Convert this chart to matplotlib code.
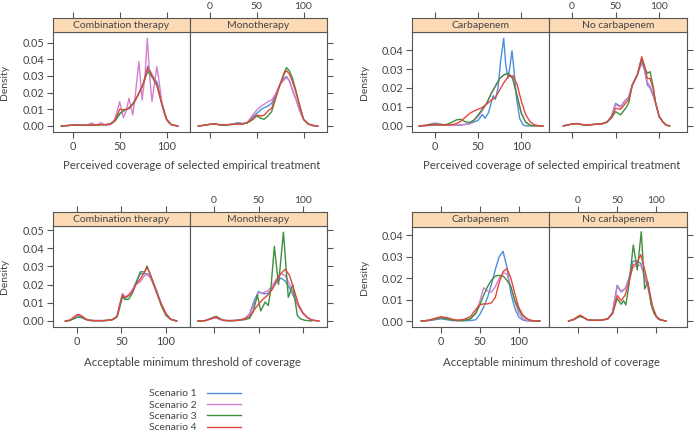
import numpy as np
import matplotlib
matplotlib.use("Agg")
import matplotlib.pyplot as plt
from matplotlib.lines import Line2D

plt.rcParams['font.family'] = ['Lato', 'DejaVu Sans']

scenarios = ["Scenario 1", "Scenario 2", "Scenario 3", "Scenario 4"]
colors = ["#4a8fd8", "#d67fd0", "#3f8f3f", "#e0483c"]

# --- Perceived coverage, Combination therapy
pc_combo_x = [-12, -5, 0, 5, 10, 15, 20, 25, 30, 35, 40, 45, 50, 55, 60, 65, 70, 75, 80, 85, 90, 95, 100, 105, 112]
pc_combo_s1 = [0, 0.0003, 0.0005, 0.0006, 0.0005, 0.0004, 0.0006, 0.0007, 0.0008, 0.0008, 0.0012, 0.003, 0.007, 0.0095, 0.011, 0.014, 0.019, 0.025, 0.036, 0.030, 0.026, 0.014, 0.004, 0.0008, 0]
pc_combo_s2_x = [-12, -5, 0, 5, 10, 15, 20, 25, 30, 35, 40, 43, 46, 50, 54, 57, 60, 64, 67, 70.5, 74, 77, 79.5, 82, 84.5, 87, 89.7, 92.5, 95, 98, 102, 106, 112]
pc_combo_s2 = [0, 0.0003, 0.0005, 0.0006, 0.0004, 0.0005, 0.0018, 0.0004, 0.002, 0.0005, 0.0008, 0.002, 0.006, 0.0146, 0.005, 0.009, 0.0166, 0.0066, 0.02, 0.0386, 0.0156, 0.03, 0.0526, 0.03, 0.0146, 0.025, 0.0356, 0.025, 0.014, 0.0066, 0.002, 0.0005, 0]
pc_combo_s3 = [0, 0.0003, 0.0005, 0.0006, 0.0005, 0.0004, 0.0006, 0.0007, 0.0008, 0.0008, 0.0012, 0.003, 0.0075, 0.0095, 0.0105, 0.0135, 0.019, 0.025, 0.033, 0.029, 0.024, 0.013, 0.004, 0.0008, 0]
pc_combo_s4 = [0, 0.0003, 0.0005, 0.0006, 0.0005, 0.0004, 0.0006, 0.0007, 0.0008, 0.0008, 0.0012, 0.0035, 0.010, 0.0098, 0.0105, 0.014, 0.019, 0.025, 0.035, 0.030, 0.024, 0.013, 0.004, 0.0008, 0]

# --- Perceived coverage, Monotherapy
pc_mono_x = [-12, -5, 0, 5, 10, 15, 20, 25, 30, 35, 40, 45, 50, 55, 58, 62, 66, 70, 75, 80, 82, 85, 88, 92, 96, 100, 105, 110, 115]
pc_mono_s1 = [0, 0.0005, 0.001, 0.0012, 0.0008, 0.0006, 0.0008, 0.0012, 0.002, 0.0015, 0.002, 0.005, 0.0075, 0.010, 0.011, 0.012, 0.0136, 0.018, 0.025, 0.029, 0.0296, 0.027, 0.022, 0.016, 0.009, 0.004, 0.0012, 0.0003, 0]
pc_mono_s2 = [0, 0.0005, 0.001, 0.0012, 0.0008, 0.0006, 0.0008, 0.0012, 0.0015, 0.0015, 0.002, 0.006, 0.0095, 0.012, 0.013, 0.0145, 0.0156, 0.019, 0.025, 0.028, 0.0292, 0.027, 0.022, 0.016, 0.009, 0.004, 0.0012, 0.0003, 0]
pc_mono_s3 = [0, 0.0005, 0.001, 0.0012, 0.0008, 0.0006, 0.0008, 0.001, 0.0012, 0.0012, 0.0018, 0.0035, 0.006, 0.0045, 0.004, 0.006, 0.0086, 0.016, 0.025, 0.033, 0.035, 0.033, 0.029, 0.021, 0.012, 0.004, 0.0012, 0.0003, 0]
pc_mono_s4 = [0, 0.0005, 0.001, 0.0013, 0.0008, 0.0006, 0.0008, 0.001, 0.0012, 0.0012, 0.002, 0.004, 0.0065, 0.006, 0.0065, 0.009, 0.0106, 0.017, 0.025, 0.032, 0.0332, 0.031, 0.027, 0.020, 0.012, 0.004, 0.0012, 0.0003, 0]

# --- Perceived coverage, Carbapenem
pc_carb_x = [-18, -10, -5, 0, 5, 10, 15, 20, 25, 30, 35, 40, 45, 50, 55, 60, 65, 70, 75, 80, 85, 90, 95, 100, 105, 110, 115, 120, 125]
pc_carb_s1_x = [-18, -10, 0, 10, 20, 30, 40, 45, 50, 55, 58, 62, 65, 67.5, 70, 73, 76, 79.6, 82, 84.6, 87, 89.2, 92, 94.2, 98, 102, 106, 112]
pc_carb_s1 = [0, 0.0002, 0.0004, 0.0004, 0.0003, 0.0004, 0.0012, 0.002, 0.003, 0.006, 0.004, 0.007, 0.012, 0.016, 0.014, 0.02, 0.034, 0.0462, 0.032, 0.0251, 0.032, 0.0396, 0.027, 0.0154, 0.004, 0.0005, 0, 0]
pc_carb_s2 = [0, 0.0005, 0.001, 0.0015, 0.0012, 0.0007, 0.0004, 0.0003, 0.0004, 0.0006, 0.0008, 0.001, 0.003, 0.005, 0.008, 0.012, 0.017, 0.021, 0.025, 0.027, 0.0275, 0.025, 0.016, 0.0067, 0.002, 0.0004, 0, 0, 0]
pc_carb_s3 = [0, 0.0003, 0.0008, 0.001, 0.0008, 0.0005, 0.001, 0.002, 0.0032, 0.0035, 0.0022, 0.0018, 0.003, 0.0058, 0.009, 0.012, 0.017, 0.021, 0.025, 0.027, 0.0277, 0.025, 0.016, 0.0067, 0.002, 0.0004, 0, 0, 0]
pc_carb_s4 = [0, 0.0002, 0.0004, 0.0006, 0.0006, 0.0005, 0.0005, 0.0007, 0.0012, 0.0025, 0.0045, 0.0065, 0.0078, 0.0088, 0.0098, 0.0115, 0.0135, 0.015, 0.019, 0.023, 0.026, 0.0265, 0.022, 0.013, 0.006, 0.0022, 0.0006, 0.0001, 0]

# --- Perceived coverage, No carbapenem
pc_nocarb_x = [-10, -5, 0, 5, 10, 15, 20, 25, 30, 35, 40, 45, 50, 55.7, 61.5, 65, 69.2, 75, 80, 83, 86.5, 89.6, 93, 96, 100, 104, 108, 112]
pc_nocarb_s1 = [0, 0.0005, 0.001, 0.0012, 0.0008, 0.0005, 0.0006, 0.0008, 0.001, 0.0012, 0.002, 0.005, 0.0119, 0.0102, 0.0137, 0.015, 0.0216, 0.027, 0.0355, 0.030, 0.0216, 0.020, 0.016, 0.012, 0.005, 0.0023, 0.0005, 0]
pc_nocarb_s2 = [0, 0.0005, 0.001, 0.0012, 0.0008, 0.0005, 0.0006, 0.0008, 0.001, 0.0012, 0.002, 0.005, 0.0112, 0.0100, 0.0137, 0.015, 0.0216, 0.027, 0.033, 0.030, 0.023, 0.021, 0.017, 0.012, 0.005, 0.0023, 0.0005, 0]
pc_nocarb_s3 = [0, 0.0005, 0.001, 0.0012, 0.0008, 0.0005, 0.0006, 0.0008, 0.001, 0.0012, 0.002, 0.004, 0.0075, 0.0058, 0.0093, 0.012, 0.0216, 0.027, 0.035, 0.031, 0.0277, 0.0286, 0.021, 0.012, 0.005, 0.0023, 0.0005, 0]
pc_nocarb_s4 = [0, 0.0005, 0.001, 0.0013, 0.0008, 0.0005, 0.0006, 0.0008, 0.001, 0.0012, 0.002, 0.0045, 0.0093, 0.0088, 0.012, 0.014, 0.0216, 0.027, 0.0365, 0.032, 0.025, 0.025, 0.020, 0.012, 0.005, 0.0023, 0.0005, 0]

# --- Acceptable threshold, Combination therapy
at_combo_x = [-13, -8, -4, 0, 3, 6, 10, 15, 20, 25, 30, 35, 40, 45, 48, 51, 54.3, 58, 62, 66, 71, 76, 78.7, 82, 85, 90, 95, 100, 105, 112]
at_combo_s1 = [0, 0.0003, 0.0012, 0.002, 0.0022, 0.0018, 0.0008, 0.0003, 0.0002, 0.0002, 0.0002, 0.0004, 0.0008, 0.0025, 0.008, 0.0138, 0.0125, 0.014, 0.0165, 0.021, 0.026, 0.026, 0.026, 0.025, 0.022, 0.016, 0.009, 0.004, 0.001, 0]
at_combo_s2 = [0, 0.0004, 0.0015, 0.003, 0.003, 0.0025, 0.001, 0.0003, 0.0002, 0.0002, 0.0002, 0.0004, 0.0008, 0.0025, 0.009, 0.0151, 0.0132, 0.0145, 0.017, 0.020, 0.0215, 0.025, 0.0255, 0.024, 0.021, 0.015, 0.009, 0.004, 0.001, 0]
at_combo_s3 = [0, 0.0003, 0.0012, 0.002, 0.0022, 0.0018, 0.0008, 0.0003, 0.0002, 0.0002, 0.0002, 0.0004, 0.0008, 0.0022, 0.0075, 0.0132, 0.0118, 0.012, 0.015, 0.020, 0.027, 0.027, 0.0302, 0.026, 0.022, 0.015, 0.008, 0.003, 0.001, 0]
at_combo_s4 = [0, 0.0005, 0.002, 0.0035, 0.0034, 0.0025, 0.001, 0.0003, 0.0002, 0.0002, 0.0002, 0.0004, 0.0008, 0.0025, 0.009, 0.0142, 0.013, 0.014, 0.016, 0.020, 0.023, 0.027, 0.0295, 0.026, 0.022, 0.015, 0.009, 0.004, 0.001, 0]

# --- Acceptable threshold, Monotherapy
at_mono_x = [-18, -10, -5, 0, 3, 6, 10, 15, 20, 25, 30, 35, 40, 45, 50, 55, 60, 65, 70, 75, 80, 85, 90, 95, 100, 105, 110, 118]
at_mono_s1 = [0, 0.0002, 0.001, 0.0018, 0.0018, 0.0012, 0.0004, 0.0002, 0.0002, 0.0003, 0.0006, 0.0015, 0.004, 0.011, 0.0162, 0.015, 0.015, 0.0175, 0.021, 0.0236, 0.022, 0.018, 0.013, 0.008, 0.004, 0.0018, 0.0005, 0]
at_mono_s2 = [0, 0.0002, 0.001, 0.0015, 0.0015, 0.001, 0.0004, 0.0002, 0.0002, 0.0003, 0.0006, 0.0015, 0.0035, 0.009, 0.0155, 0.0155, 0.0165, 0.019, 0.023, 0.026, 0.025, 0.020, 0.014, 0.008, 0.004, 0.0018, 0.0005, 0]
at_mono_s3_x = [-18, -10, -5, 0, 3, 6, 10, 15, 20, 25, 30, 35, 40, 44, 48.8, 52.5, 57.5, 61, 64, 67.8, 72.5, 78, 83.5, 88.5, 91.5, 93.7, 97, 102, 110]
at_mono_s3 = [0, 0.0002, 0.001, 0.0022, 0.0025, 0.0015, 0.0004, 0.0002, 0.0002, 0.0003, 0.0005, 0.0008, 0.0015, 0.005, 0.0142, 0.0055, 0.0104, 0.0085, 0.018, 0.041, 0.020, 0.0488, 0.013, 0.020, 0.010, 0.003, 0.0012, 0.0004, 0]
at_mono_s4 = [0, 0.0002, 0.001, 0.002, 0.002, 0.0012, 0.0004, 0.0002, 0.0002, 0.0003, 0.0006, 0.0012, 0.0025, 0.006, 0.0092, 0.012, 0.014, 0.017, 0.022, 0.026, 0.0285, 0.025, 0.017, 0.009, 0.0045, 0.002, 0.0005, 0]

# --- Acceptable threshold, Carbapenem
at_carb_x = [-25, -15, -8, 0, 8, 15, 22, 30, 38, 45, 50, 55, 60, 65, 70, 75, 80, 85, 90, 95, 100, 105, 110, 115, 120, 127]
at_carb_s1 = [0, 0.0002, 0.0006, 0.001, 0.0006, 0.0002, 0.0001, 0.0001, 0.0002, 0.0006, 0.003, 0.0065, 0.011, 0.017, 0.024, 0.030, 0.0325, 0.025, 0.013, 0.006, 0.002, 0.0005, 0.0001, 0, 0, 0]
at_carb_s2 = [0, 0.0003, 0.0008, 0.0015, 0.001, 0.0004, 0.0002, 0.0003, 0.001, 0.004, 0.009, 0.0155, 0.014, 0.0135, 0.016, 0.020, 0.0225, 0.022, 0.016, 0.009, 0.004, 0.0012, 0.0003, 0, 0, 0]
at_carb_s3 = [0, 0.0003, 0.0008, 0.0015, 0.001, 0.0004, 0.0002, 0.0003, 0.001, 0.0035, 0.0073, 0.012, 0.016, 0.019, 0.021, 0.0213, 0.021, 0.019, 0.016, 0.0098, 0.0055, 0.0025, 0.0012, 0.0003, 0, 0]
at_carb_s4 = [0, 0.0004, 0.0012, 0.002, 0.0016, 0.0008, 0.0004, 0.0008, 0.002, 0.0055, 0.0075, 0.008, 0.008, 0.0085, 0.011, 0.018, 0.023, 0.0245, 0.020, 0.013, 0.0065, 0.003, 0.0012, 0.0004, 0.0001, 0]

# --- Acceptable threshold, No carbapenem
at_nocarb_x = [-12, -6, 0, 3, 7, 12, 20, 30, 38, 44, 50, 55, 60, 65, 70, 75, 80, 85, 90, 95, 100, 105, 112]
at_nocarb_s1 = [0, 0.0006, 0.0018, 0.0022, 0.0016, 0.0006, 0.0003, 0.0004, 0.001, 0.004, 0.0167, 0.0136, 0.015, 0.020, 0.028, 0.028, 0.027, 0.020, 0.015, 0.006, 0.002, 0.0005, 0]
at_nocarb_s2 = [0, 0.0006, 0.0018, 0.0022, 0.0016, 0.0006, 0.0003, 0.0004, 0.001, 0.004, 0.016, 0.014, 0.015, 0.019, 0.025, 0.026, 0.026, 0.021, 0.014, 0.006, 0.002, 0.0005, 0]
at_nocarb_s3_x = [-12, -6, 0, 3, 7, 12, 20, 30, 38, 44, 50, 55, 58, 61, 65, 70.5, 75.6, 80.7, 85, 89.2, 93, 97, 102, 112]
at_nocarb_s3 = [0, 0.0006, 0.0018, 0.0022, 0.0016, 0.0006, 0.0003, 0.0004, 0.001, 0.0035, 0.0105, 0.0078, 0.0095, 0.0075, 0.017, 0.0355, 0.0238, 0.0417, 0.015, 0.0183, 0.008, 0.0035, 0.001, 0]
at_nocarb_s4 = [0, 0.0007, 0.0022, 0.0027, 0.0018, 0.0006, 0.0003, 0.0004, 0.001, 0.0035, 0.012, 0.0095, 0.012, 0.018, 0.026, 0.027, 0.031, 0.024, 0.016, 0.007, 0.002, 0.0005, 0]

W, H = 696, 433
edge = "#555555"
txt = "#444444"
strip_col = "#fcdab5"

fig = plt.figure(figsize=(W / 100, H / 100), dpi=100)


def rect(x0, y0, x1, y1):
    return [x0 / W, 1 - y1 / H, (x1 - x0) / W, (y1 - y0) / H]


def group(x0, xm, x1, strip_top, top, bottom, xlim, ylim, yticks, panels, xlabel, xlabel_y):
    lefts = [(x0, xm), (xm, x1)]
    for i, (title, series) in enumerate(panels):
        a, b = lefts[i]
        ax = fig.add_axes(rect(a, top, b, bottom))
        st = fig.add_axes(rect(a, strip_top, b, top))
        for (xs, ys), c in zip(series, colors):
            ax.plot(xs, ys, color=c, lw=1.0)
        ax.set_xlim(xlim)
        ax.set_ylim(ylim)
        st.set_xlim(xlim)
        ax.set_xticks([0, 50, 100])
        st.set_xticks([0, 50, 100])
        st.set_yticks([])
        ax.set_yticks(yticks)
        ax.set_yticklabels(["%.2f" % v for v in yticks])
        st.set_facecolor(strip_col)
        st.text(0.5, 0.5, title, transform=st.transAxes, ha="center", va="center",
                fontsize=7.5, color=txt)
        for a_ in (ax, st):
            for s in a_.spines.values():
                s.set_color(edge)
                s.set_linewidth(0.8)
            a_.tick_params(direction="out", length=4, width=0.8, color=edge,
                           labelcolor=txt, labelsize=7.8, pad=2.5)
        st.tick_params(axis="x", bottom=False, labelbottom=False, top=True, labeltop=(i == 1),
                       pad=0.8, labelsize=7.5)
        if i == 0:
            ax.tick_params(axis="x", bottom=True, labelbottom=True, top=False)
            ax.tick_params(axis="y", left=True, labelleft=True, right=False)
        else:
            ax.tick_params(axis="x", bottom=True, labelbottom=False, top=False)
            ax.tick_params(axis="y", left=False, labelleft=False, right=True, labelright=False)
    fig.text(((x0 + x1) / 2 + 2) / W, 1 - xlabel_y / H, xlabel, ha="center", va="center",
             fontsize=8.2, color=txt)
    fig.text((x0 - 48) / W, 1 - (top + bottom) / 2 / H, "Density", rotation=90,
             ha="center", va="center", fontsize=7.5, color=txt)


cov = "Perceived coverage of selected empirical treatment"
thr = "Acceptable minimum threshold of coverage"

group(53, 190, 327, 18, 32, 132, (-21, 125), (-0.0036, 0.0564),
      [0, 0.01, 0.02, 0.03, 0.04, 0.05],
      [("Combination therapy", [(pc_combo_x, pc_combo_s1), (pc_combo_s2_x, pc_combo_s2),
                                (pc_combo_x, pc_combo_s3), (pc_combo_x, pc_combo_s4)]),
       ("Monotherapy", [(pc_mono_x, pc_mono_s1), (pc_mono_x, pc_mono_s2),
                        (pc_mono_x, pc_mono_s3), (pc_mono_x, pc_mono_s4)])],
      cov, 166)

group(412, 549, 687, 18, 32, 132, (-26.5, 132), (-0.0032, 0.0495),
      [0, 0.01, 0.02, 0.03, 0.04],
      [("Carbapenem", [(pc_carb_s1_x, pc_carb_s1), (pc_carb_x, pc_carb_s2),
                       (pc_carb_x, pc_carb_s3), (pc_carb_x, pc_carb_s4)]),
       ("No carbapenem", [(pc_nocarb_x, pc_nocarb_s1), (pc_nocarb_x, pc_nocarb_s2),
                          (pc_nocarb_x, pc_nocarb_s3), (pc_nocarb_x, pc_nocarb_s4)])],
      cov, 166)

group(53, 190, 327, 212, 226, 327, (-27, 127), (-0.0033, 0.0522),
      [0, 0.01, 0.02, 0.03, 0.04, 0.05],
      [("Combination therapy", [(at_combo_x, at_combo_s1), (at_combo_x, at_combo_s2),
                                (at_combo_x, at_combo_s3), (at_combo_x, at_combo_s4)]),
       ("Monotherapy", [(at_mono_x, at_mono_s1), (at_mono_x, at_mono_s2),
                        (at_mono_s3_x, at_mono_s3), (at_mono_x, at_mono_s4)])],
      thr, 362)

group(412, 549, 687, 212, 227, 327, (-37, 139), (-0.0028, 0.0439),
      [0, 0.01, 0.02, 0.03, 0.04],
      [("Carbapenem", [(at_carb_x, at_carb_s1), (at_carb_x, at_carb_s2),
                       (at_carb_x, at_carb_s3), (at_carb_x, at_carb_s4)]),
       ("No carbapenem", [(at_nocarb_x, at_nocarb_s1), (at_nocarb_x, at_nocarb_s2),
                          (at_nocarb_s3_x, at_nocarb_s3), (at_nocarb_x, at_nocarb_s4)])],
      thr, 362)

handles = [Line2D([], [], color=c, lw=1.0) for c in colors]
fig.legend(handles, scenarios, loc="upper left", bbox_to_anchor=(149 / W, 1 - 389 / H),
           frameon=False, markerfirst=False, handlelength=3.3, handletextpad=1.0,
           labelspacing=0.2, fontsize=7.5, borderpad=0, borderaxespad=0,
           labelcolor=txt)

fig.savefig("out.png", dpi=100)
